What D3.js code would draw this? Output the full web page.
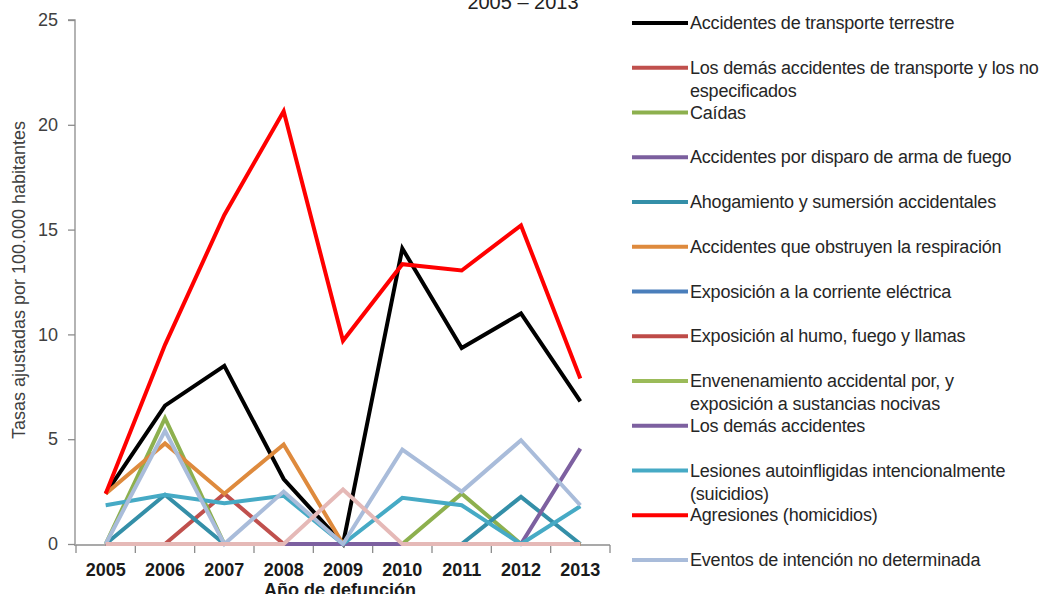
<!DOCTYPE html>
<html>
<head>
<meta charset="utf-8">
<script src="https://cdn.jsdelivr.net/npm/d3@7"></script>
<style>
  body { margin: 0; background: #fff; }
  svg { display: block; }
</style>
</head>
<body>
<div id="chart"></div>
<script>
// years on the x axis
const years = ["2005", "2006", "2007", "2008", "2009", "2010", "2011", "2012", "2013"];
const yTicks = [0, 5, 10, 15, 20, 25];

// one array per cause (rates per 100.000)
const transporteTerrestre = [2.4, 6.6, 8.5, 3.1, 0, 14.1, 9.35, 11.0, 6.8];
const demasTransporte     = [0, 0, 2.4, 0, 0, 0, 0, 0, 0];
const caidas              = [0, 6.0, 0, 0, 0, 0, 2.4, 0, 0];
const disparo             = [0, 0, 0, 0, 0, 0, 0, 0, 0];
const ahogamiento         = [0, 2.35, 0, 0, 0, 0, 0, 2.25, 0];
const obstruyen           = [2.4, 4.8, 2.4, 4.75, 0, 0, 0, 0, 0];
const corriente           = [0, 0, 0, 0, 0, 0, 0, 0, 0];
const humo                = [0, 0, 0, 0, 0, 0, 0, 0, 0];
const envenenamiento      = [0, 0, 0, 0, 0, 0, 0, 0, 0];
const demasAccidentes     = [0, 0, 0, 0, 0, 0, 0, 0, 4.55];
const suicidios           = [1.85, 2.35, 1.95, 2.3, 0, 2.2, 1.85, 0, 1.8];
const homicidios          = [2.4, 9.5, 15.7, 20.65, 9.7, 13.35, 13.05, 15.2, 7.9];
const noDeterminada       = [0, 5.4, 0, 2.5, 0, 4.5, 2.5, 4.95, 1.85];
const sinEtiqueta         = [0, 0, 0, 0, 2.6, 0, 0, 0, 0];

const series = [
  {name: ["Accidentes de transporte terrestre"], values: transporteTerrestre, color: "#000000"},
  {name: ["Los demás accidentes de transporte y los no", "especificados"], values: demasTransporte, color: "#C0504D"},
  {name: ["Caídas"], values: caidas, color: "#8DB04E"},
  {name: ["Accidentes por disparo de arma de fuego"], values: disparo, color: "#7B5F9E"},
  {name: ["Ahogamiento y sumersión accidentales"], values: ahogamiento, color: "#348FA8"},
  {name: ["Accidentes que obstruyen la respiración"], values: obstruyen, color: "#DE8A3D"},
  {name: ["Exposición a la corriente eléctrica"], values: corriente, color: "#4A7EBB"},
  {name: ["Exposición al humo, fuego y llamas"], values: humo, color: "#BE4B48"},
  {name: ["Envenenamiento accidental por, y", "exposición a sustancias nocivas"], values: envenenamiento, color: "#9BBB59"},
  {name: ["Los demás accidentes"], values: demasAccidentes, color: "#7D60A0"},
  {name: ["Lesiones autoinfligidas intencionalmente", "(suicidios)"], values: suicidios, color: "#46AAC5"},
  {name: ["Agresiones (homicidios)"], values: homicidios, color: "#FF0000"},
  {name: ["Eventos de intención no determinada"], values: noDeterminada, color: "#A9BCDA"},
  {name: null, values: sinEtiqueta, color: "#E5B9B7"}
];

const width = 1044, height = 594;
const font = "'Liberation Sans', Arial, sans-serif";

const svg = d3.select("#chart").append("svg")
  .attr("width", width)
  .attr("height", height);

const x = d3.scaleBand().domain(years).range([76, 610]);
const y = d3.scaleLinear().domain([0, 25]).range([544, 20]);
const cx = d => x(d) + x.bandwidth() / 2;

// title (cut off at the top in the original)
svg.append("text")
  .attr("x", 523).attr("y", 9)
  .attr("text-anchor", "middle")
  .style("font-family", font)
  .style("font-size", "20px")
  .style("fill", "#222")
  .text("2005 – 2013");

// y axis
const yAxis = svg.append("g")
  .attr("transform", "translate(75,0)")
  .call(d3.axisLeft(y).tickValues(yTicks).tickSize(7).tickPadding(10));
yAxis.select(".domain").attr("stroke", "#8c8c8c").attr("stroke-width", 1.3)
  .attr("d", "M-7,20H0V544");
yAxis.selectAll(".tick line").attr("stroke", "#8c8c8c").attr("stroke-width", 1.3);
yAxis.selectAll(".tick text")
  .style("font-family", font)
  .style("font-size", "18px")
  .style("fill", "#404040");

svg.append("text")
  .attr("transform", "translate(25,280) rotate(-90)")
  .attr("text-anchor", "middle")
  .style("font-family", font)
  .style("font-size", "18px")
  .style("fill", "#404040")
  .text("Tasas ajustadas por 100.000 habitantes");

// x axis
const xAxis = svg.append("g")
  .attr("transform", "translate(0,545)")
  .call(d3.axisBottom(x).tickSize(0).tickPadding(18));
xAxis.select(".domain").attr("stroke", "#8c8c8c").attr("stroke-width", 1.3)
  .attr("d", "M74,0H610");
xAxis.selectAll(".tick text")
  .style("font-family", font)
  .style("font-weight", "bold")
  .style("font-size", "18px")
  .style("fill", "#1a1a1a");
xAxis.selectAll(".edge")
  .data(years.concat(["end"]))
  .join("line")
  .attr("class", "edge")
  .attr("x1", (d, i) => i < years.length ? x(d) : x.range()[1])
  .attr("x2", (d, i) => i < years.length ? x(d) : x.range()[1])
  .attr("y1", 0).attr("y2", 8)
  .attr("stroke", "#8c8c8c").attr("stroke-width", 1.3);

svg.append("text")
  .attr("x", 340).attr("y", 596)
  .attr("text-anchor", "middle")
  .style("font-family", font)
  .style("font-weight", "bold")
  .style("font-size", "18px")
  .style("fill", "#1a1a1a")
  .text("Año de defunción");

// lines
const line = d3.line()
  .x((d, i) => cx(years[i]))
  .y(d => y(d));

svg.append("g")
  .selectAll("path")
  .data(series)
  .join("path")
  .attr("d", d => line(d.values))
  .attr("fill", "none")
  .attr("stroke", d => d.color)
  .attr("stroke-width", 4)
  .attr("stroke-linejoin", "miter");

// legend
const legend = svg.append("g")
  .selectAll("g")
  .data(series.filter(d => d.name))
  .join("g")
  .attr("transform", (d, i) => `translate(632,${23 + i * 44.75})`);

legend.append("line")
  .attr("x1", 0).attr("x2", 56)
  .attr("stroke", d => d.color)
  .attr("stroke-width", 4);

legend.append("text")
  .attr("x", 58)
  .attr("y", 6)
  .style("font-family", font)
  .style("font-size", "18px")
  .style("letter-spacing", "-0.2px")
  .style("fill", "#262626")
  .selectAll("tspan")
  .data(d => d.name)
  .join("tspan")
  .attr("x", 58)
  .attr("dy", (d, i) => i === 0 ? 0 : 23)
  .text(d => d);
</script>
</body>
</html>
